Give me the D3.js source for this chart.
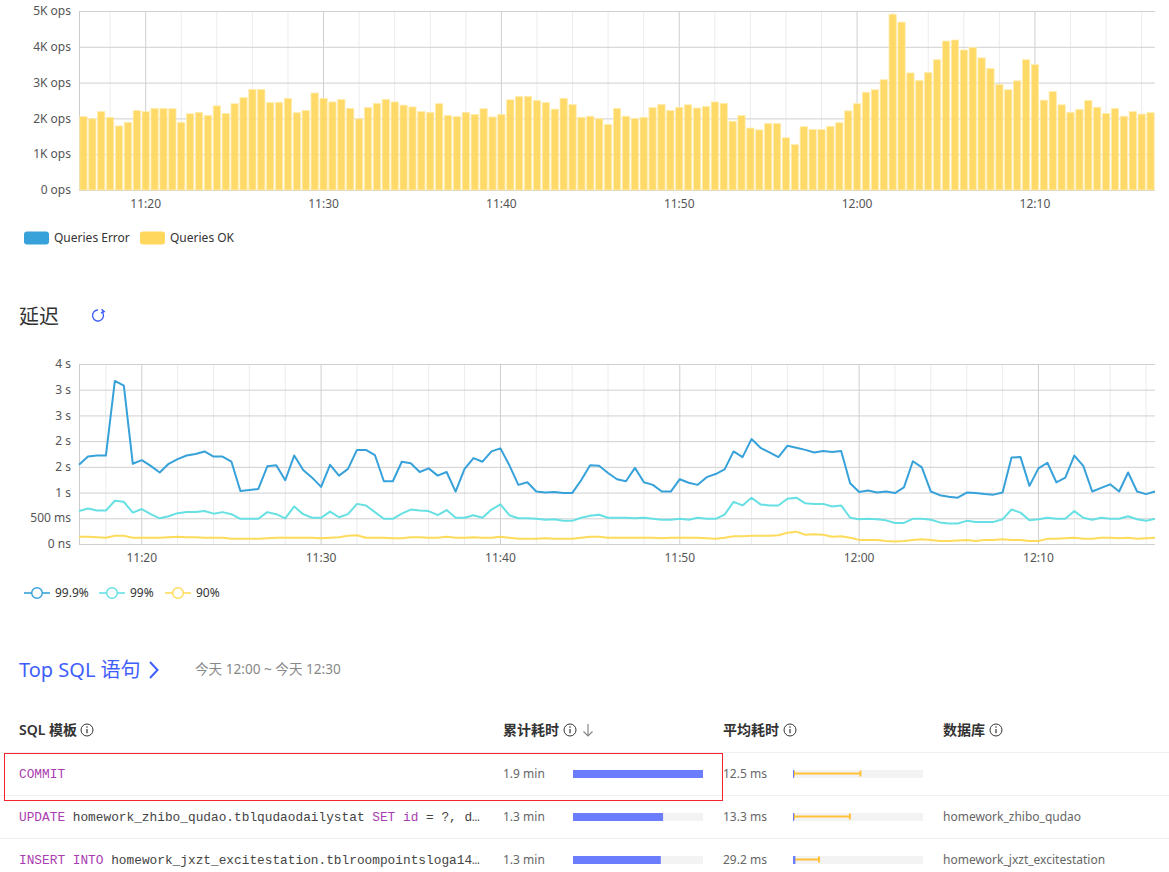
<!DOCTYPE html>
<html>
<head>
<meta charset="utf-8">
<script src="https://cdn.jsdelivr.net/npm/d3@7"></script>
<style>
  body { margin: 0; background: #fff; }
  svg { display: block; font-family: "Noto Sans", "Noto Sans CJK SC", sans-serif; }
  .mono { font-family: "Liberation Mono", "DejaVu Sans Mono", monospace; }
</style>
</head>
<body>
<svg id="chart" width="1169" height="872"></svg>
<script>
// QPS, thousands of ops per 30s bucket
const opsK = [2.05,1.99,2.19,2.03,1.79,1.89,2.22,2.19,2.28,2.28,2.27,1.89,2.13,2.17,2.08,2.35,2.14,2.41,2.58,2.81,2.81,2.44,2.45,2.56,2.16,2.22,2.71,2.56,2.46,2.53,2.28,1.99,2.30,2.42,2.53,2.46,
  2.37,2.32,2.19,2.17,2.41,2.08,2.05,2.17,2.11,2.27,2.04,2.11,2.52,2.61,2.61,2.50,2.44,2.26,2.56,2.39,2.03,2.06,1.99,1.83,2.28,2.06,2.00,2.03,2.30,2.39,2.22,2.31,2.38,2.29,2.33,2.46,2.42,1.92,2.08,1.73,1.68,1.86,1.86,
  1.46,1.27,1.77,1.69,1.69,1.78,1.88,2.21,2.41,2.73,2.80,3.08,4.91,4.69,3.27,3.06,3.28,3.64,4.16,4.19,3.91,3.98,3.69,3.39,2.95,2.80,3.05,3.64,3.50,2.51,2.75,2.38,2.17,2.25,2.50,2.31,2.14,2.28,2.06,2.19,2.12,2.16];

// latency in seconds
const p999 = [1.54,1.70,1.72,1.72,3.17,3.08,1.56,1.63,1.52,1.39,1.56,1.65,1.72,1.75,1.80,1.70,1.70,1.60,1.03,1.05,1.07,1.51,1.53,1.24,1.72,1.44,1.29,1.11,1.54,1.33,1.46,1.83,1.83,1.73,1.22,1.22,1.60,
  1.57,1.40,1.47,1.33,1.40,1.02,1.46,1.67,1.60,1.80,1.86,1.53,1.15,1.20,1.02,1.00,1.01,0.99,0.99,1.24,1.53,1.52,1.38,1.26,1.22,1.48,1.20,1.15,1.02,1.02,1.26,1.19,1.15,1.30,1.36,1.45,1.80,1.69,2.04,1.87,1.78,1.69,
  1.91,1.87,1.83,1.78,1.81,1.79,1.81,1.18,1.01,1.04,1.00,1.02,0.99,1.10,1.61,1.49,1.02,0.95,0.92,0.90,1.00,0.99,0.97,0.96,1.00,1.68,1.69,1.13,1.47,1.58,1.20,1.29,1.72,1.52,1.02,1.09,1.16,1.02,1.39,1.02,0.97,1.02];
const p99 = [0.64,0.69,0.65,0.65,0.84,0.82,0.61,0.68,0.58,0.50,0.54,0.60,0.62,0.62,0.64,0.59,0.62,0.58,0.49,0.49,0.49,0.62,0.58,0.50,0.73,0.58,0.51,0.51,0.63,0.52,0.58,0.78,0.75,0.62,0.49,0.49,0.59,
  0.67,0.65,0.64,0.56,0.66,0.51,0.51,0.56,0.51,0.67,0.77,0.56,0.50,0.50,0.49,0.47,0.48,0.45,0.45,0.51,0.55,0.57,0.51,0.51,0.51,0.50,0.51,0.49,0.47,0.47,0.49,0.47,0.51,0.49,0.49,0.57,0.82,0.75,0.90,0.77,0.75,0.75,
  0.88,0.90,0.79,0.78,0.78,0.73,0.75,0.51,0.48,0.49,0.48,0.46,0.41,0.41,0.49,0.49,0.47,0.42,0.40,0.40,0.45,0.43,0.43,0.43,0.48,0.67,0.61,0.46,0.48,0.51,0.49,0.49,0.64,0.51,0.47,0.51,0.49,0.49,0.54,0.48,0.45,0.49];
const p90 = [0.14,0.14,0.13,0.12,0.16,0.16,0.12,0.12,0.12,0.12,0.13,0.14,0.13,0.13,0.12,0.12,0.12,0.10,0.10,0.10,0.10,0.11,0.12,0.12,0.12,0.12,0.12,0.11,0.12,0.13,0.16,0.17,0.12,0.12,0.12,0.11,0.11,
  0.13,0.13,0.12,0.12,0.14,0.12,0.12,0.13,0.12,0.12,0.14,0.12,0.10,0.10,0.10,0.11,0.10,0.10,0.10,0.12,0.14,0.14,0.12,0.12,0.12,0.12,0.12,0.12,0.11,0.12,0.12,0.12,0.12,0.11,0.10,0.12,0.15,0.15,0.16,0.16,0.16,0.17,
  0.22,0.24,0.18,0.19,0.18,0.14,0.15,0.12,0.08,0.08,0.08,0.06,0.05,0.06,0.08,0.09,0.08,0.06,0.06,0.07,0.08,0.06,0.08,0.08,0.09,0.08,0.08,0.06,0.06,0.10,0.10,0.11,0.12,0.10,0.10,0.12,0.12,0.11,0.12,0.10,0.11,0.12];

const opsTicks = [0, 1000, 2000, 3000, 4000, 5000];
const latTicks = [0, 0.5, 1, 1.5, 2, 2.5, 3, 3.5];

// top sql table
const sqlRows = [
  [{k: 1, t: "COMMIT"}],
  [{k: 1, t: "UPDATE"}, {k: 0, t: " homework_zhibo_qudao.tblqudaodailystat "}, {k: 1, t: "SET"}, {k: 0, t: " "}, {k: 1, t: "id"}, {k: 0, t: " = ?, d…"}],
  [{k: 1, t: "INSERT"}, {k: 0, t: " "}, {k: 1, t: "INTO"}, {k: 0, t: " homework_jxzt_excitestation.tblroompointsloga14…"}]
];
const sumLatency = [114, 79, 77];      // seconds
const sumLabels = ["1.9 min", "1.3 min", "1.3 min"];
const avgLatency = [12.5, 13.3, 29.2]; // ms
const maxLatency = [830, 700, 320];    // ms
const avgLabels = ["12.5 ms", "13.3 ms", "29.2 ms"];
const dbNames = ["", "homework_zhibo_qudao", "homework_jxzt_excitestation"];

const svg = d3.select("#chart");
const left = 79, right = 1155;
const start = new Date(2021, 0, 1, 11, 16, 30);
const times = opsK.map((d, i) => d3.timeSecond.offset(start, i * 30));

function grid(g, x, y, yTicks, top, bottom) {
  g.selectAll(".minor").data(x.ticks(d3.timeMinute.every(2))).join("line")
    .attr("x1", d => x(d)).attr("x2", d => x(d)).attr("y1", top).attr("y2", bottom)
    .attr("stroke", d => d.getMinutes() % 10 == 0 ? "#cfcfcf" : "#ececec");
  g.selectAll(".h").data(yTicks).join("line")
    .attr("x1", left).attr("x2", right).attr("y1", d => y(d) + 0.5).attr("y2", d => y(d) + 0.5)
    .attr("stroke", "#d0d0d0");
  g.append("line").attr("x1", left + 0.5).attr("x2", left + 0.5).attr("y1", top).attr("y2", bottom).attr("stroke", "#ccc");
}

function xLabels(g, x, ly) {
  g.selectAll(".xl").data(x.ticks(d3.timeMinute.every(10))).join("text")
    .attr("x", d => x(d)).attr("y", ly).attr("dy", "0.35em").attr("text-anchor", "middle")
    .attr("font-size", 12).attr("fill", "#555").text(d3.timeFormat("%H:%M"));
}

// ---------- QPS bars ----------
const x1 = d3.scaleTime()
  .domain([d3.timeSecond.offset(start, -15), d3.timeSecond.offset(times[times.length - 1], 15)])
  .range([left, right]);
const y1 = d3.scaleLinear().domain([0, 5000]).range([190, 11]);
const g1 = svg.append("g");
grid(g1, x1, y1, opsTicks, 11, 190);
const bw = (x1(times[1]) - x1(times[0])) - 1.6;
g1.selectAll(".bar").data(opsK).join("rect")
  .attr("x", (d, i) => x1(times[i]) - bw / 2)
  .attr("y", d => y1(d * 1000))
  .attr("width", bw)
  .attr("height", d => y1(0) - y1(d * 1000))
  .attr("fill", "#FFD75C").attr("fill-opacity", 0.92)
  .attr("stroke", "#FFEDB0").attr("stroke-width", 0.8);
g1.selectAll(".yl").data(opsTicks).join("text")
  .attr("x", 71).attr("y", d => y1(d)).attr("dy", "0.35em").attr("text-anchor", "end")
  .attr("font-size", 12).attr("fill", "#555").text(d => d == 0 ? "0 ops" : (d / 1000) + "K ops");
xLabels(g1, x1, 204);

const leg1 = svg.append("g");
[["Queries Error", "#37A2DA", 24], ["Queries OK", "#FFD75C", 140]].forEach(([name, c, lx]) => {
  leg1.append("rect").attr("x", lx).attr("y", 231.5).attr("width", 25).attr("height", 13).attr("rx", 3).attr("fill", c);
  leg1.append("text").attr("x", lx + 30).attr("y", 238).attr("dy", "0.35em")
    .attr("font-size", 12).attr("fill", "#333").text(name);
});

// ---------- latency ----------
svg.append("text").attr("x", 19).attr("y", 316).attr("dy", "0.38em")
  .attr("font-size", 20).attr("fill", "#333").attr("font-family", "Noto Sans CJK SC").text("延迟");
const rp = d3.path();
rp.arc(98, 315.5, 5.5, -Math.PI * 0.25, Math.PI * 1.5);
svg.append("path").attr("d", rp.toString()).attr("fill", "none").attr("stroke", "#3f5efb").attr("stroke-width", 1.4);
svg.append("path").attr("d", "M101.5,309.3 L104.2,311.6 L101,313.2").attr("fill", "none").attr("stroke", "#3f5efb").attr("stroke-width", 1.4);

const x2 = d3.scaleTime().domain([start, times[times.length - 1]]).range([left, right]);
const y2 = d3.scaleLinear().domain([0, 3.5]).range([544, 364]);
const g2 = svg.append("g");
grid(g2, x2, y2, latTicks, 364, 544);
g2.selectAll(".yl").data(latTicks).join("text")
  .attr("x", 71).attr("y", d => y2(d)).attr("dy", "0.35em").attr("text-anchor", "end")
  .attr("font-size", 12).attr("fill", "#555")
  .text(d => d == 0 ? "0 ns" : d == 0.5 ? "500 ms" : Math.round(d) + " s");
xLabels(g2, x2, 558);

const series = [["99.9%", p999, "#37A2DA"], ["99%", p99, "#67E0E3"], ["90%", p90, "#FFDB5C"]];
const line = d3.line().x((d, i) => x2(times[i])).y(d => y2(d));
series.slice().reverse().forEach(([name, vals, c]) => {
  g2.append("path").datum(vals).attr("d", line).attr("fill", "none")
    .attr("stroke", c).attr("stroke-width", 2).attr("stroke-linejoin", "round");
});

const legX = [24, 99, 165];
series.forEach(([name, vals, c], i) => {
  const lx = legX[i];
  svg.append("line").attr("x1", lx).attr("x2", lx + 26).attr("y1", 593).attr("y2", 593)
    .attr("stroke", c).attr("stroke-width", 2).attr("stroke-opacity", 0.8);
  svg.append("circle").attr("cx", lx + 13).attr("cy", 593).attr("r", 5.3)
    .attr("fill", "#fff").attr("stroke", c).attr("stroke-width", 1.5);
  svg.append("text").attr("x", lx + 31).attr("y", 593).attr("dy", "0.35em")
    .attr("font-size", 12).attr("fill", "#333").text(name);
});

// ---------- Top SQL ----------
svg.append("text").attr("x", 19).attr("y", 670).attr("dy", "0.36em")
  .attr("font-size", 20).attr("fill", "#3f5efb").attr("font-family", "Noto Sans, Noto Sans CJK SC").text("Top SQL 语句");
svg.append("path").attr("d", "M150,662 L157.5,670 L150,678").attr("fill", "none").attr("stroke", "#3f5efb").attr("stroke-width", 2);
svg.append("text").attr("x", 195).attr("y", 669).attr("dy", "0.36em")
  .attr("font-size", 13.6).attr("fill", "#888").text("今天 12:00 ~ 今天 12:30");

function infoIcon(cx, cy) {
  svg.append("circle").attr("cx", cx).attr("cy", cy).attr("r", 6).attr("fill", "none").attr("stroke", "#333").attr("stroke-width", 1);
  svg.append("line").attr("x1", cx).attr("x2", cx).attr("y1", cy - 1).attr("y2", cy + 3.2).attr("stroke", "#333").attr("stroke-width", 1.2);
  svg.append("circle").attr("cx", cx).attr("cy", cy - 3).attr("r", 0.8).attr("fill", "#333");
}
const headers = [["SQL 模板", 19, 87], ["累计耗时", 503, 570], ["平均耗时", 723, 790], ["数据库", 943, 996]];
headers.forEach(([t, hx, ix]) => {
  svg.append("text").attr("x", hx).attr("y", 730).attr("dy", "0.37em")
    .attr("font-size", 14).attr("font-weight", 600).attr("fill", "#333").text(t);
  infoIcon(ix, 730);
});
svg.append("path").attr("d", "M588,724 L588,736 M583.5,731.5 L588,736 L592.5,731.5").attr("fill", "none").attr("stroke", "#888").attr("stroke-width", 1.2);

const rowY = [774, 817, 860];
[752, 795, 838].forEach(ly => svg.append("line").attr("x1", 0).attr("x2", 1169).attr("y1", ly + 0.5).attr("y2", ly + 0.5).attr("stroke", "#f0f0f0"));

const sumX = d3.scaleLinear().domain([0, d3.max(sumLatency)]).range([573, 703]);
const avgX = d3.scaleLinear().domain([0, 1600]).range([793, 923]);

rowY.forEach((ry, i) => {
  const t = svg.append("text").attr("class", "mono").attr("x", 19).attr("y", ry).attr("dy", "0.35em").attr("font-size", 12.8);
  sqlRows[i].forEach(p => t.append("tspan").attr("fill", p.k ? "#a93cb0" : "#444").text(p.t));

  svg.append("text").attr("x", 503).attr("y", ry).attr("dy", "0.35em").attr("font-size", 12).attr("fill", "#666").text(sumLabels[i]);
  svg.append("rect").attr("x", 573).attr("y", ry - 4).attr("width", 130).attr("height", 8).attr("fill", "#f3f3f3");
  svg.append("rect").attr("x", 573).attr("y", ry - 4).attr("width", sumX(sumLatency[i]) - 573).attr("height", 8).attr("fill", "#6b7dfd");

  svg.append("text").attr("x", 723).attr("y", ry).attr("dy", "0.35em").attr("font-size", 12).attr("fill", "#666").text(avgLabels[i]);
  svg.append("rect").attr("x", 793).attr("y", ry - 4).attr("width", 130).attr("height", 8).attr("fill", "#f3f3f3");
  const mx = avgX(maxLatency[i]);
  svg.append("line").attr("x1", 793).attr("x2", mx).attr("y1", ry - 0.5).attr("y2", ry - 0.5).attr("stroke", "#FFC13A").attr("stroke-width", 2);
  svg.append("line").attr("x1", mx).attr("x2", mx).attr("y1", ry - 3.5).attr("y2", ry + 2.5).attr("stroke", "#FFC13A").attr("stroke-width", 2);
  svg.append("line").attr("x1", 794).attr("x2", 794).attr("y1", ry - 3.5).attr("y2", ry + 2.5).attr("stroke", "#FFC13A").attr("stroke-width", 2);
  svg.append("rect").attr("x", 793).attr("y", ry - 4).attr("width", Math.max(1, avgX(avgLatency[i]) - 793)).attr("height", 8).attr("fill", "#6b7dfd");

  svg.append("text").attr("x", 943).attr("y", ry).attr("dy", "0.35em").attr("font-size", 12).attr("fill", "#666").text(dbNames[i]);
});

svg.append("rect").attr("x", 4.5).attr("y", 753.5).attr("width", 718).attr("height", 47)
  .attr("fill", "none").attr("stroke", "#f5222d").attr("stroke-width", 1);
</script>
</body>
</html>
